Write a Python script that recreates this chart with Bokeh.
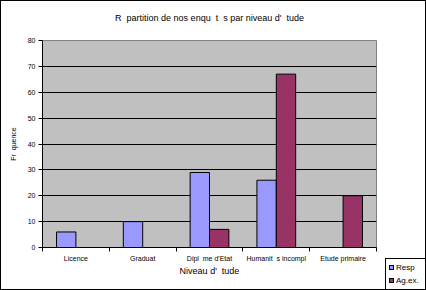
from bokeh.plotting import figure
from bokeh.layouts import row
from bokeh.models import ColumnDataSource, FixedTicker, Range1d, Div, Title
from bokeh.embed import file_html
from bokeh.resources import INLINE

G = "\u00a0\u00a0"  # blank left by each missing accented letter
title_text = f"R{G}partition de nos enqu{G}t{G}s par niveau d'{G}tude"
x_title = f"Niveau d'{G}tude"
y_title = f"Fr{G}quence"
categories = ["Licence", "Graduat", f"Dipl{G}me d'Etat", f"Humanit{G}s incompl", "Etude primaire"]
resp = [6, 10, 29, 26, 0]
agex = [0, 0, 7, 67, 20]
series_names = ["Resp", "Ag.ex."]
series_colors = ["#9999FF", "#993366"]
y_ticks = [0, 10, 20, 30, 40, 50, 60, 70, 80]

FONT = "Liberation Sans"
bw = 0.29
centers = [i + 0.5 for i in range(len(categories))]

p = figure(width=383, height=288, output_backend="svg", toolbar_location=None,
           x_range=Range1d(0, len(categories)), y_range=Range1d(0, 80))
p.min_border_left = 41
p.min_border_right = 8
p.min_border_top = 39
p.min_border_bottom = 42
p.background_fill_color = "#C0C0C0"
p.border_fill_color = "white"
p.outline_line_color = "#808080"

# spacer between the title and the plot area, then the title itself
p.add_layout(Title(text=" ", text_font_size="8px", standoff=7), "above")
p.add_layout(Title(text=title_text, align="center", offset=4, text_font=FONT,
                   text_font_size="9px", text_font_style="normal",
                   text_color="black", standoff=0), "above")

src = ColumnDataSource(dict(
    xr=[c - bw / 2 for c in centers],
    xa=[c + bw / 2 for c in centers],
    resp=resp, agex=agex))
p.vbar(x="xr", top="resp", width=bw, source=src, fill_color=series_colors[0],
       line_color="black", line_width=1)
p.vbar(x="xa", top="agex", width=bw, source=src, fill_color=series_colors[1],
       line_color="black", line_width=1)

p.xgrid.visible = False
p.ygrid.grid_line_color = "black"
p.ygrid.grid_line_width = 1
p.ygrid.ticker = FixedTicker(ticks=y_ticks)

xa = p.xaxis[0]
xa.ticker = FixedTicker(ticks=centers, minor_ticks=list(range(len(categories) + 1)))
xa.major_label_overrides = {c: lab for c, lab in zip(centers, categories)}
xa.major_tick_line_color = None
xa.minor_tick_line_color = "black"
xa.minor_tick_out = 4
xa.minor_tick_in = 0
xa.major_tick_out = 4
xa.axis_line_color = "black"
xa.major_label_text_font = FONT
xa.major_label_text_font_size = "7px"
xa.major_label_text_color = "black"
xa.major_label_standoff = 3
xa.axis_label = x_title
xa.axis_label_text_font = FONT
xa.axis_label_text_font_size = "9px"
xa.axis_label_text_font_style = "normal"
xa.axis_label_text_color = "black"
xa.axis_label_standoff = 1

ya = p.yaxis[0]
ya.ticker = FixedTicker(ticks=y_ticks)
ya.minor_tick_line_color = None
ya.major_tick_out = 4
ya.major_tick_in = 0
ya.axis_line_color = "black"
ya.major_tick_line_color = "black"
ya.major_label_text_font = FONT
ya.major_label_text_font_size = "7px"
ya.major_label_text_color = "black"
ya.major_label_standoff = 3
ya.axis_label = y_title
ya.axis_label_text_font = FONT
ya.axis_label_text_font_size = "7px"
ya.axis_label_text_font_style = "normal"
ya.axis_label_text_color = "black"
ya.axis_label_standoff = 8

# legend box, drawn at the bottom right corner below the plot area
items_html = "".join(
    f'<div style="display:flex;align-items:center;height:13px;">'
    f'<span style="display:inline-block;width:5px;height:5px;background:{c};'
    f'border:1px solid black;margin-right:2px;"></span>'
    f'<span style="font-family:\'{FONT}\';font-size:8px;color:black;line-height:13px;">{n}</span></div>'
    for n, c in zip(series_names, series_colors))
legend_html = (
    '<div style="height:288px;width:41px;display:flex;flex-direction:column;'
    'justify-content:flex-end;align-items:flex-end;">'
    '<div style="width:40px;height:31px;box-sizing:border-box;border:1px solid black;'
    'border-right:none;border-bottom:none;padding:2px 0 0 3px;background:white;">'
    + items_html + '</div></div>')
legend_div = Div(text=legend_html, width=41, height=288)
legend_div.styles = {"margin": "0", "padding": "0"}

layout = row(p, legend_div)
layout.styles = {"border": "1px solid black"}
layout.spacing = 0

open("out.html", "w").write(file_html(layout, INLINE))
